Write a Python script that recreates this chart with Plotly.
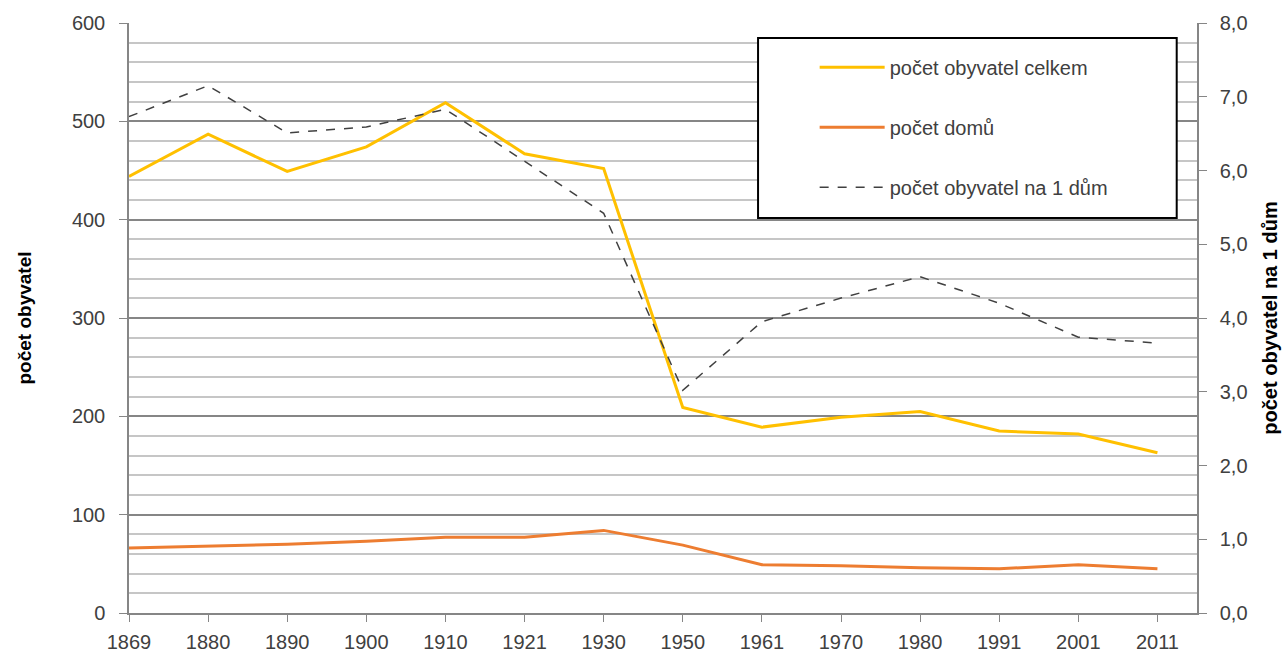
import plotly.graph_objects as go

# roky sčítání
roky = ["1869", "1880", "1890", "1900", "1910", "1921", "1930",
        "1950", "1961", "1970", "1980", "1991", "2001", "2011"]
pocet_obyvatel = [444, 487, 449, 474, 519, 467, 452, 209, 189, 199, 205, 185, 182, 163]
pocet_domu = [66, 68, 70, 73, 77, 77, 84, 69, 49, 48, 46, 45, 49, 45]
obyvatel_na_dum = [6.73, 7.15, 6.51, 6.59, 6.83, 6.12, 5.42, 3.02, 3.95, 4.27, 4.56, 4.20, 3.74, 3.66]

FONT = "Liberation Sans, Arial, sans-serif"
SEDA = "#404040"

fig = go.Figure()
fig.add_trace(go.Scatter(x=roky, y=pocet_obyvatel, name="počet obyvatel celkem",
                         mode="lines", line=dict(color="#FFC000", width=3),
                         legendgroup="a"))
fig.add_trace(go.Scatter(x=roky, y=pocet_domu, name="počet domů",
                         mode="lines", line=dict(color="#ED7D31", width=3),
                         legendgroup="b"))
fig.add_trace(go.Scatter(x=roky, y=obyvatel_na_dum, name="počet obyvatel na 1 dům",
                         mode="lines", line=dict(color="#404040", width=1.5, dash="dash"),
                         legendgroup="c", yaxis="y2"))

fig.update_layout(
    width=1283, height=655,
    margin=dict(l=129, r=86, t=23, b=42, autoexpand=False),
    paper_bgcolor="white", plot_bgcolor="white",
    font=dict(family=FONT, size=20, color=SEDA),
    separators=", ",
    showlegend=True,
    legend=dict(x=0.642, y=0.958, xanchor="left", yanchor="top",
                bgcolor="rgba(0,0,0,0)", borderwidth=0,
                tracegroupgap=31, itemwidth=65,
                font=dict(family=FONT, size=20, color=SEDA)),
    xaxis=dict(type="category", range=[0, 13.5], showgrid=False, automargin=False,
               showline=True, linecolor="#868686", linewidth=1.5,
               ticks="outside", ticklen=7, tickcolor="#868686",
               ticklabelstandoff=3,
               tickfont=dict(size=20, color=SEDA)),
    yaxis=dict(range=[0, 600], dtick=100, tickformat="d", automargin=False,
               showgrid=True, gridcolor="#868686", gridwidth=1.5,
               minor=dict(dtick=20, showgrid=True, gridcolor="#c6c6c6", gridwidth=1.5),
               showline=True, linecolor="#868686", linewidth=1.5,
               ticks="outside", ticklen=8, tickcolor="#868686",
               ticklabelstandoff=10,
               zeroline=False,
               title=dict(text="<b>počet obyvatel</b>", standoff=35,
                          font=dict(size=19, color="black"))),
    yaxis2=dict(range=[0, 8], dtick=1, tickformat=".1f", overlaying="y", side="right",
                showgrid=False, zeroline=False, automargin=False,
                showline=True, linecolor="#868686", linewidth=1.5,
                ticks="outside", ticklen=8, tickcolor="#868686",
                ticklabelstandoff=9,
                title=dict(text="<b>počet obyvatel na 1 dům</b>", standoff=16,
                           font=dict(size=20, color="black"))),
)

# rámeček legendy
fig.add_shape(type="rect", xref="paper", yref="paper",
              x0=0.589, x1=0.981, y0=0.6695, y1=0.9746,
              line=dict(color="black", width=2), fillcolor="white", layer="above")

fig.write_html("out.html", config={"displayModeBar": False},
               post_script="document.body.style.margin='0';")
